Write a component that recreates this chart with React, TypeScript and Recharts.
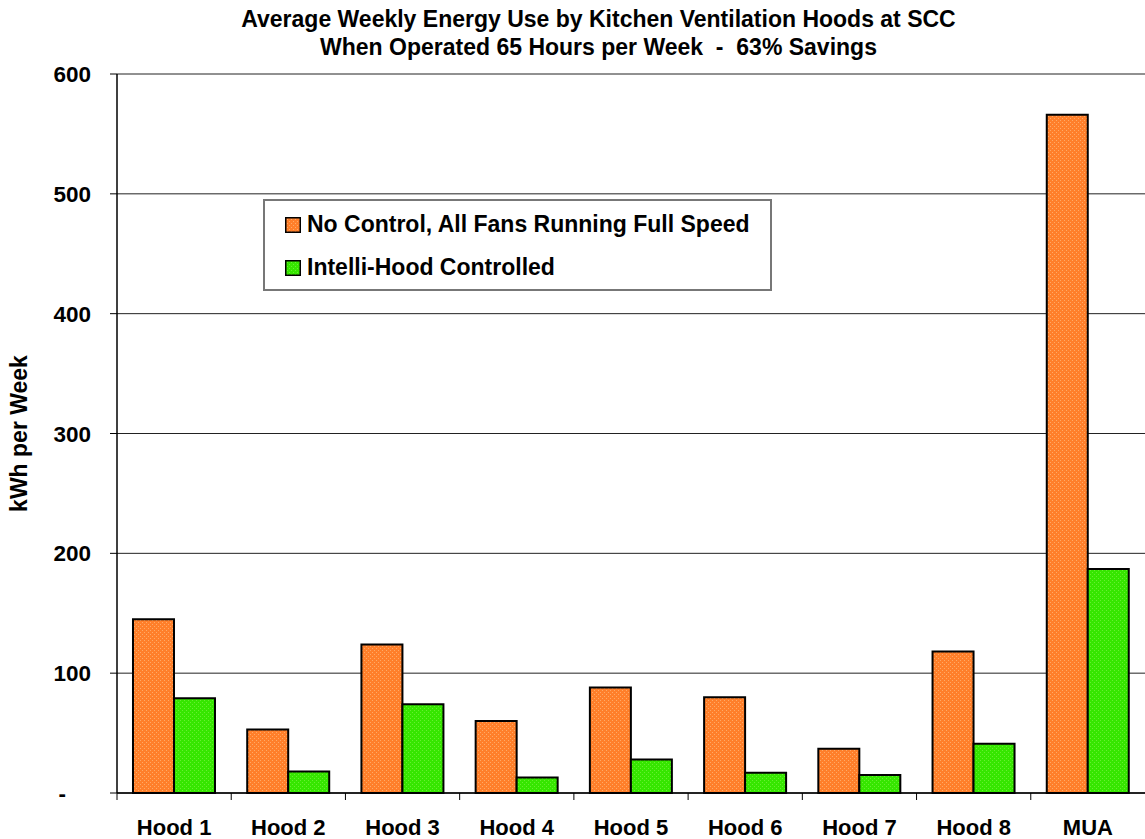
import React from "react";
import { BarChart, Bar, XAxis, YAxis, CartesianGrid, Legend } from "recharts";

const categories = ["Hood 1", "Hood 2", "Hood 3", "Hood 4", "Hood 5", "Hood 6", "Hood 7", "Hood 8", "MUA"];
const noControl = [145, 53, 124, 60, 88, 80, 37, 118, 566];
const intelliHood = [79, 18, 74, 13, 28, 17, 15, 41, 187];
const yTicks = [0, 100, 200, 300, 400, 500, 600];

const data = categories.map((name, i) => ({
  name,
  noControl: noControl[i],
  intelli: intelliHood[i],
}));

const FONT = "'Liberation Sans', Arial, sans-serif";

const series = [
  { key: "noControl", name: "No Control, All Fans Running Full Speed", fill: "url(#orangeDots)" },
  { key: "intelli", name: "Intelli-Hood Controlled", fill: "url(#greenDots)" },
];

function YTick({ x, y, payload }: any) {
  const isZero = payload.value === 0;
  return (
    <text
      x={isZero ? x - 25 : x}
      y={y}
      dy={8}
      textAnchor="end"
      fontFamily={FONT}
      fontWeight="bold"
      fontSize={22.5}
      fill="#000"
    >
      {isZero ? "-" : payload.value}
    </text>
  );
}

function XTick({ x, y, payload }: any) {
  const half = payload.offset ?? 57;
  return (
    <g>
      <line x1={x - half} x2={x - half} y1={y} y2={y + 7} stroke="#000" strokeWidth={1} />
      <text x={x} y={y + 42} textAnchor="middle" fontFamily={FONT} fontWeight="bold" fontSize={22} fill="#000">
        {payload.value}
      </text>
    </g>
  );
}

function LegendBox() {
  return (
    <div
      style={{
        border: "2px solid #777",
        background: "#fff",
        boxSizing: "border-box",
        width: 509,
        height: 92,
        padding: "2px 0 0 20px",
        fontFamily: FONT,
        fontWeight: "bold",
        fontSize: 23,
        textAlign: "left",
      }}
    >
      {series.map((s) => (
        <div key={s.key} style={{ display: "flex", alignItems: "center", height: 43 }}>
          <svg width={16} height={16} style={{ marginRight: 6 }}>
            <rect x={0.75} y={0.75} width={14.5} height={14.5} fill={s.fill} stroke="#000" strokeWidth={1.5} />
          </svg>
          <span>{s.name}</span>
        </div>
      ))}
    </div>
  );
}

export default function App() {
  return (
    <div style={{ position: "absolute", left: 0, top: 0, width: 1145, height: 839, background: "#fff" }}>
      <svg width={0} height={0} style={{ position: "absolute" }}>
        <defs>
          <pattern id="orangeDots" width={4} height={4} patternUnits="userSpaceOnUse">
            <rect width={4} height={4} fill="#FF7F2A" />
            <rect x={0} y={0} width={1} height={1} fill="#FFAA66" />
            <rect x={2} y={2} width={1} height={1} fill="#FFAA66" />
          </pattern>
          <pattern id="greenDots" width={4} height={4} patternUnits="userSpaceOnUse">
            <rect width={4} height={4} fill="#36E600" />
            <rect x={0} y={0} width={1} height={1} fill="#66F030" />
            <rect x={2} y={2} width={1} height={1} fill="#66F030" />
          </pattern>
        </defs>
      </svg>
      <div
        style={{
          position: "absolute",
          left: 0,
          top: 5,
          width: 1197,
          textAlign: "center",
          fontFamily: FONT,
          fontWeight: "bold",
          fontSize: 23,
          lineHeight: "28px",
          color: "#000",
          zIndex: 2,
        }}
      >
        Average Weekly Energy Use by Kitchen Ventilation Hoods at SCC
        <br />
        When Operated 65 Hours per Week&nbsp; - &nbsp;63% Savings
      </div>
      <BarChart
        width={1145}
        height={839}
        data={data}
        margin={{ top: 74, right: 0, bottom: 0, left: 0 }}
        barCategoryGap="14%"
        barGap={0}
      >
        <CartesianGrid vertical={false} stroke="#222" strokeWidth={1} />
        <XAxis
          dataKey="name"
          height={46}
          axisLine={{ stroke: "#000", strokeWidth: 1.5 }}
          tickLine={false}
          tickSize={0}
          tickMargin={0}
          interval={0}
          tick={<XTick />}
        />
        <YAxis
          width={117}
          domain={[0, 600]}
          ticks={yTicks}
          interval={0}
          axisLine={{ stroke: "#000", strokeWidth: 1.5 }}
          tickLine={{ stroke: "#000" }}
          tickSize={7}
          tickMargin={19}
          tick={<YTick />}
          label={{
            value: "kWh per Week",
            angle: -90,
            position: "center",
            dx: -40,
            style: { fontFamily: FONT, fontWeight: "bold", fontSize: 23, fill: "#000" },
          }}
        />
        <Legend
          layout="horizontal"
          verticalAlign="middle"
          align="center"
          wrapperStyle={{ position: "absolute", left: 263, top: 199, width: 509, height: 92 }}
          content={() => <LegendBox />}
        />
        {series.map((s) => (
          <Bar
            key={s.key}
            dataKey={s.key}
            name={s.name}
            fill={s.fill}
            stroke="#000"
            strokeWidth={2}
            isAnimationActive={false}
          />
        ))}
      </BarChart>
    </div>
  );
}
